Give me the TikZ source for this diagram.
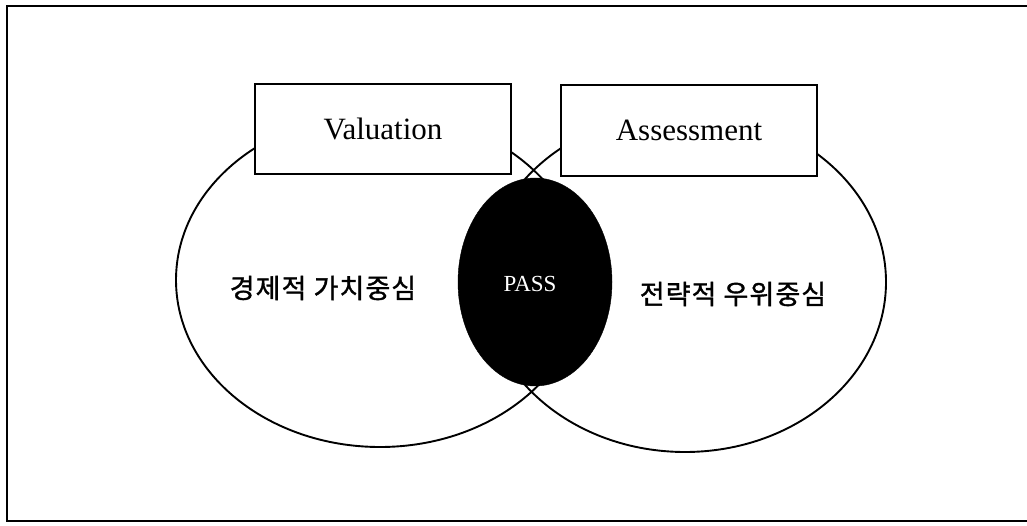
\documentclass[tikz,border=0pt]{standalone}
\usepackage{fontspec}
\setmainfont{Liberation Serif}
\newfontfamily\kr[FakeBold=1.3,LetterSpace=4]{Noto Sans CJK KR}
\usetikzlibrary{shapes.geometric}
\tikzset{
  venn/.style={ellipse, draw=black, line width=1.9pt, inner sep=0pt},
  labelbox/.style={rectangle, draw=black, fill=white, line width=1.4pt, minimum width=256pt, minimum height=90pt, inner sep=0pt, font=\fontsize{31}{36}\selectfont},
  core/.style={ellipse, fill=black, draw=black, inner sep=0pt, minimum width=154pt, minimum height=208pt},
  krtext/.style={font=\kr\fontsize{27}{30}\selectfont, inner sep=0pt},
  frameline/.style={line width=1.4pt, draw=black}
}
\begin{document}
\begin{tikzpicture}[x=1pt,y=-1pt]
\useasboundingbox (0,0) rectangle (1027,526);
% frame
\coordinate (fTR) at (1027,6);
\coordinate (fTL) at (7,6);
\coordinate (fBL) at (7,521);
\coordinate (fBR) at (1027,521);
\draw[frameline] (fTR) -- (fTL) -- (fBL) -- (fBR);
% venn ellipses
\node[venn, minimum width=408pt, minimum height=334pt] (L) at (380,280) {};
\node[venn, minimum width=402pt, minimum height=340pt] (R) at (685,282) {};
% boxes
\node[labelbox] (val) at (383,129) {Valuation};
\node[labelbox, minimum height=91pt] (ass) at (689,130.5) {Assessment};
% intersection
\node[core] (pass) at (535,282) {};
\node[text=white, font=\fontsize{23}{26}\selectfont, inner sep=0pt] (passlbl) at (530,284) {PASS};
% labels
\node[krtext] (ltext) at (323,288) {경제적 가치중심};
\node[krtext] (rtext) at (733,294) {전략적 우위중심};
\end{tikzpicture}
\end{document}
